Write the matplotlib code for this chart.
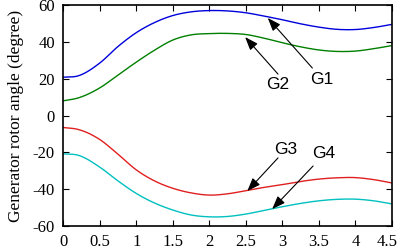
import matplotlib
matplotlib.use("Agg")
import matplotlib.pyplot as plt
import matplotlib.transforms as mtransforms
import numpy as np

# time (s) and rotor angles (degree)
t = [0, 0.2, 0.5, 0.75, 1.0, 1.25, 1.5, 1.75, 2.0, 2.25, 2.5, 2.75, 3.0, 3.25, 3.5, 3.75, 4.0, 4.25, 4.5]
g1 = [20.8, 21.5, 28.5, 37.5, 45.0, 50.5, 54.3, 56.3, 57.0, 56.8, 55.8, 54.0, 52.0, 49.8, 48.0, 46.8, 46.7, 47.8, 49.5]
g2 = [8.0, 9.5, 15.0, 22.0, 29.0, 35.5, 41.0, 43.8, 44.5, 44.6, 44.0, 42.0, 39.5, 37.3, 35.6, 34.8, 35.0, 36.3, 38.0]
g3 = [-6.5, -7.5, -13.0, -21.0, -29.5, -35.5, -39.5, -42.0, -43.2, -42.5, -40.8, -39.0, -37.5, -35.8, -34.5, -33.8, -33.7, -34.8, -36.6]
g4 = [-20.8, -21.5, -28.0, -35.5, -42.3, -47.5, -51.3, -54.0, -55.0, -54.8, -53.5, -51.5, -49.5, -47.7, -46.3, -45.5, -45.4, -46.3, -48.0]

tick_x = [0, 0.5, 1, 1.5, 2, 2.5, 3, 3.5, 4, 4.5]
tick_y = [-60, -40, -20, 0, 20, 40, 60]

plt.rcParams["font.family"] = "Liberation Serif"
plt.rcParams["axes.unicode_minus"] = False


def smooth(x, y, n=300):
    # cubic hermite through the read points, just to avoid kinks
    x = np.asarray(x, float)
    y = np.asarray(y, float)
    m = np.gradient(y, x)
    xs = np.linspace(x[0], x[-1], n)
    idx = np.clip(np.searchsorted(x, xs) - 1, 0, len(x) - 2)
    h = x[idx + 1] - x[idx]
    s = (xs - x[idx]) / h
    h00 = 2 * s**3 - 3 * s**2 + 1
    h10 = s**3 - 2 * s**2 + s
    h01 = -2 * s**3 + 3 * s**2
    h11 = s**3 - s**2
    ys = h00 * y[idx] + h10 * h * m[idx] + h01 * y[idx + 1] + h11 * h * m[idx + 1]
    return xs, ys


fig = plt.figure(figsize=(4, 2.52), dpi=100)
ax = fig.add_axes([0.158, 0.103, 0.822, 0.877])

for y, c in [(g1, "#0000dd"), (g2, "#008000"), (g3, "#e02020"), (g4, "#00c0c0")]:
    xs, ys = smooth(t, y)
    ax.plot(xs, ys, color=c, lw=1.0)

ax.set_xlim(0, 4.5)
ax.set_ylim(-60, 60)
ax.set_xticks(tick_x)
ax.set_xticklabels(["0", "0.5", "1", "1.5", "2", "2.5", "3", "3.5", "4", "4.5"])
ax.set_yticks(tick_y)
ax.tick_params(direction="in", top=True, right=True, length=4, width=0.8,
               labelsize=12, pad=6)
for sp in ax.spines.values():
    sp.set_linewidth(1.2)

# last x label sits right at the figure edge; nudge it in a bit
last = ax.get_xticklabels()[-1]
last.set_transform(last.get_transform() +
                   mtransforms.ScaledTranslation(-5 / 100, 0, fig.dpi_scale_trans))

ax.set_ylabel("Generator rotor angle (degree)", fontsize=12.5, labelpad=6)

arrow = dict(arrowstyle="-|>,head_width=0.3,head_length=0.8", color="black",
             lw=0.8, shrinkA=0, shrinkB=0)
labels = [("G1", 2.80, 53.0, 3.41, 25.8, 3.54, 19.8),
          ("G2", 2.49, 42.6, 2.94, 22.5, 2.93, 16.6),
          ("G3", 2.52, -41.0, 2.94, -23.0, 3.04, -18.2),
          ("G4", 2.86, -50.8, 3.42, -27.4, 3.56, -20.4)]
for name, hx, hy, tx, ty, lx, ly in labels:
    ax.annotate("", xy=(hx, hy), xytext=(tx, ty), arrowprops=arrow)
    ax.text(lx, ly, name, family="Liberation Sans", fontsize=12.5,
            ha="center", va="center")

fig.savefig("out.png", dpi=100)
